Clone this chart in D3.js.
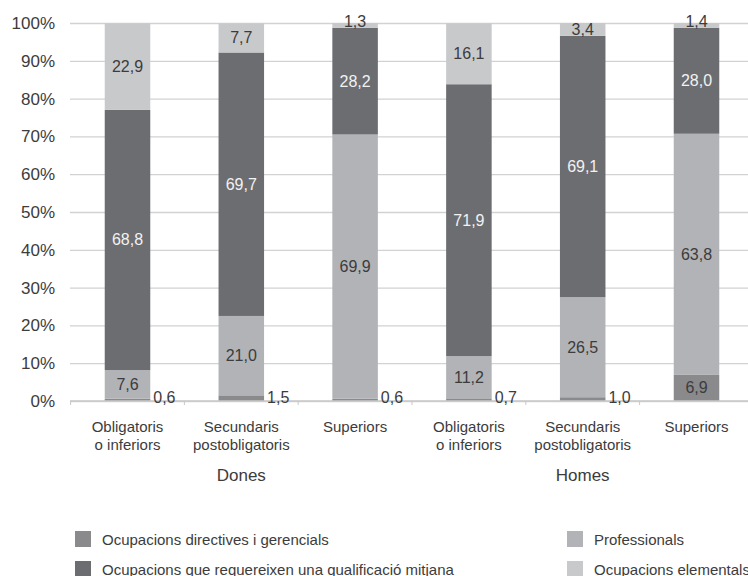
<!DOCTYPE html>
<html><head><meta charset="utf-8">
<script src="https://cdn.jsdelivr.net/npm/d3@7/dist/d3.min.js"></script>
<style>
body{margin:0;background:#fff;}
svg text{font-family:"Liberation Sans",Arial,sans-serif;fill:#3c3c3c;}
</style></head>
<body><svg id="c" width="748" height="576"></svg>
<script>
const categories = ["Obligatoris|o inferiors","Secundaris|postobligatoris","Superiors","Obligatoris|o inferiors","Secundaris|postobligatoris","Superiors"];
const groups = ["Dones","Homes"];
const directives = [0.6,1.5,0.6,0.7,1.0,6.9];
const professionals = [7.6,21.0,69.9,11.2,26.5,63.8];
const mitjana = [68.8,69.7,28.2,71.9,69.1,28.0];
const elementals = [22.9,7.7,1.3,16.1,3.4,1.4];
const seriesNames = ["Ocupacions directives i gerencials","Professionals","Ocupacions que requereixen una qualificació mitjana","Ocupacions elementals"];
const yTicks = [0,10,20,30,40,50,60,70,80,90,100];

const colors = ["#8a8a8d","#b2b3b6","#6c6d71","#c8c9cb"];
const series = [directives, professionals, mitjana, elementals];

const svg = d3.select("#c");
const x = d3.scaleBand().domain(d3.range(categories.length)).range([70.6, 753.4]).paddingInner(0.6).paddingOuter(0.3);
const y = d3.scaleLinear().domain([0,100]).range([401,23]);

// y axis with gridlines
const ya = svg.append("g").attr("transform","translate(70,0)")
  .call(d3.axisLeft(y).tickValues(yTicks).tickSize(-690).tickFormat(d=>d+"%").tickPadding(15));
ya.select(".domain").remove();
ya.selectAll(".tick line").attr("stroke","#d2d2d2").attr("stroke-width",1.3);
ya.selectAll(".tick text").style("font-size","17px").attr("fill","#3c3c3c");

// stacked bars
const stacked = categories.map((c,i)=>{let acc=0;return series.map((s,k)=>{const v=s[i];const o={i,k,y0:acc,y1:acc+v,v};acc+=v;return o;});});
const bars = svg.append("g");
stacked.forEach(col=>{
  bars.selectAll(null).data(col).enter().append("rect")
    .attr("x",d=>x(d.i)).attr("width",x.bandwidth())
    .attr("y",d=>y(Math.min(d.y1,100))).attr("height",d=>y(d.y0)-y(Math.min(d.y1,100)))
    .attr("fill",d=>colors[d.k]);
});

// x axis baseline & tick marks at band boundaries
svg.append("line").attr("x1",70).attr("x2",748).attr("y1",y(0)).attr("y2",y(0)).attr("stroke","#c8c8c8").attr("stroke-width",1.3);
const bounds = d3.range(categories.length+1).map(i=>x.range()[0]+i*x.step());
svg.selectAll(null).data(bounds).enter().append("line")
  .attr("x1",d=>d).attr("x2",d=>d).attr("y1",y(0)).attr("y2",y(0)+4).attr("stroke","#c8c8c8");

// value labels
const fmt = v=>v.toFixed(1).replace(".",",");
stacked.forEach(col=>{
  col.forEach(d=>{
    let tx = x(d.i)+x.bandwidth()/2, ty = (y(d.y0)+y(Math.min(d.y1,100)))/2, anchor="middle";
    if(d.k===0 && d.v<2){ tx = x(d.i)+x.bandwidth()+3; ty = y(0)-4; anchor="start"; }
    if(d.k===3 && d.v<2){ ty = y(100)-2; }
    svg.append("text").attr("x",tx).attr("y",ty).attr("text-anchor",anchor)
      .attr("dominant-baseline","central").style("font-size","16px")
      .style("fill", d.k===2 ? "#f2f2f2" : "#3c3c3c").text(fmt(d.v));
  });
});

// category labels
const xa = svg.append("g").attr("transform",`translate(0,${y(0)})`)
  .call(d3.axisBottom(x).tickSize(0).tickFormat(i=>categories[i]));
xa.select(".domain").remove();
xa.selectAll(".tick text").each(function(i){
  const t=d3.select(this); const lines=categories[i].split("|");
  t.text(null).attr("y",0).attr("dy",null).style("font-size","15px");
  lines.forEach((l,j)=>t.append("tspan").attr("x",0).attr("y",25+j*18.5).attr("dominant-baseline","central").text(l));
});

// group labels
groups.forEach((g,gi)=>{
  const cx = (x.range()[0]+gi*3*x.step() + x.range()[0]+(gi+1)*3*x.step())/2;
  svg.append("text").attr("x",cx).attr("y",475).attr("text-anchor","middle").attr("dominant-baseline","central").style("font-size","17px").text(g);
});

// legend
const legendPos = [[75,539],[567,539],[75,569],[567,569]];
const legendOrder = [0,1,2,3];
legendOrder.forEach((k,j)=>{
  const [lx,ly]=legendPos[j];
  svg.append("rect").attr("x",lx).attr("y",ly-8).attr("width",16).attr("height",16).attr("fill",colors[k]);
  svg.append("text").attr("x",lx+27).attr("y",ly).attr("dominant-baseline","central").style("font-size","15px").text(seriesNames[k]);
});
</script></body></html>
